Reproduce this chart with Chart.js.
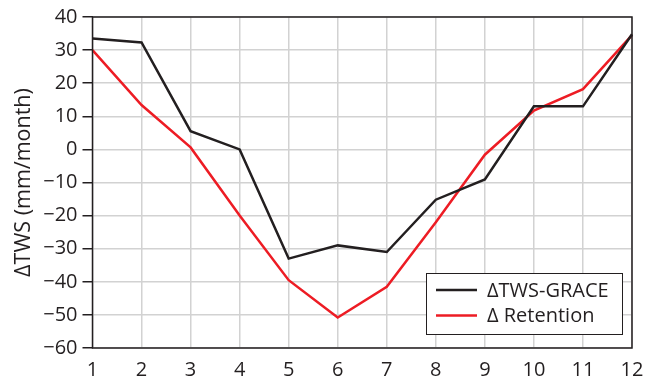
<!DOCTYPE html>
<html>
<head>
<meta charset="utf-8">
<script src="https://cdn.jsdelivr.net/npm/chart.js@4.4.1/dist/chart.umd.min.js"></script>
<style>
  html, body { margin: 0; padding: 0; background: #fff; }
  #wrap { width: 658px; height: 388px; position: relative; }
</style>
</head>
<body>
<div id="wrap"><canvas id="c" width="658" height="388"></canvas></div>
<script>
// Month index along the x axis
const months = [1, 2, 3, 4, 5, 6, 7, 8, 9, 10, 11, 12];
// Monthly change in terrestrial water storage (mm/month)
const twsGrace = [33.5, 32.3, 5.5, 0, -33, -29, -31, -15.2, -9.1, 13, 13, 34.8];
const retention = [30, 13.4, 0.6, -20, -39.5, -50.8, -41.5, -22, -1.6, 11.7, 18.2, 34.5];
const seriesNames = ['\u0394TWS-GRACE', '\u0394 Retention'];
const yTicks = [-60, -50, -40, -30, -20, -10, 0, 10, 20, 30, 40];

const FONT = '"Open Sans", "Noto Sans", sans-serif';
const INK = '#231f20';

// Frame around the plotting area plus a boxed legend in its lower right
const framePlugin = {
  id: 'frameAndLegend',
  afterDraw(chart) {
    const { ctx, chartArea: a } = chart;
    ctx.save();
    ctx.strokeStyle = INK;
    ctx.lineWidth = 1.5;
    ctx.strokeRect(a.left, a.top, a.right - a.left, a.bottom - a.top);

    // legend box
    const bx = 426, by = 273, bw = 196, bh = 61;
    ctx.fillStyle = '#fff';
    ctx.fillRect(bx, by, bw, bh);
    ctx.lineWidth = 1;
    ctx.strokeRect(bx + 0.5, by + 0.5, bw, bh);
    ctx.font = '20px ' + FONT;
    ctx.textBaseline = 'middle';
    ctx.textAlign = 'left';
    chart.data.datasets.forEach((ds, i) => {
      const y = by + 17 + i * 25.5;
      ctx.strokeStyle = ds.borderColor;
      ctx.lineWidth = ds.borderWidth;
      ctx.beginPath();
      ctx.moveTo(436, y);
      ctx.lineTo(477, y);
      ctx.stroke();
      ctx.fillStyle = INK;
      ctx.fillText(ds.label, 487, y + 1);
    });
    ctx.restore();
  }
};

new Chart(document.getElementById('c'), {
  type: 'line',
  data: {
    labels: months,
    datasets: [
      { label: seriesNames[0], data: twsGrace, borderColor: INK, borderWidth: 2.5, pointRadius: 0, tension: 0, fill: false },
      { label: seriesNames[1], data: retention, borderColor: '#ed1c24', borderWidth: 2.5, pointRadius: 0, tension: 0, fill: false }
    ]
  },
  options: {
    responsive: false,
    animation: false,
    devicePixelRatio: 1,
    layout: { padding: { top: 16, right: 26, left: 0, bottom: 0 } },
    plugins: { legend: { display: false }, tooltip: { enabled: false } },
    scales: {
      x: {
        type: 'category',
        offset: false,
        grid: { color: '#d2d2d2', lineWidth: 1.5, drawTicks: false },
        border: { display: false },
        ticks: { color: INK, font: { family: FONT, size: 20 }, padding: 10, maxRotation: 0 },
        afterFit(s) { s.height = 40; }
      },
      y: {
        min: -60,
        max: 40,
        afterBuildTicks(s) { s.ticks = yTicks.map(v => ({ value: v })); },
        grid: { color: '#d2d2d2', lineWidth: 1.5, tickColor: INK, tickLength: 10, tickWidth: 1.5 },
        border: { display: false },
        ticks: {
          color: INK,
          font: { family: FONT, size: 20 },
          padding: 5,
          callback: v => String(v).replace('-', '\u2212')
        },
        title: {
          display: true,
          text: '\u0394TWS (mm/month)',
          color: INK,
          font: { family: FONT, size: 21.5 },
          padding: { top: 11, bottom: 0 }
        },
        afterFit(s) { s.width = 92.5; }
      }
    }
  },
  plugins: [framePlugin]
});
</script>
</body>
</html>
